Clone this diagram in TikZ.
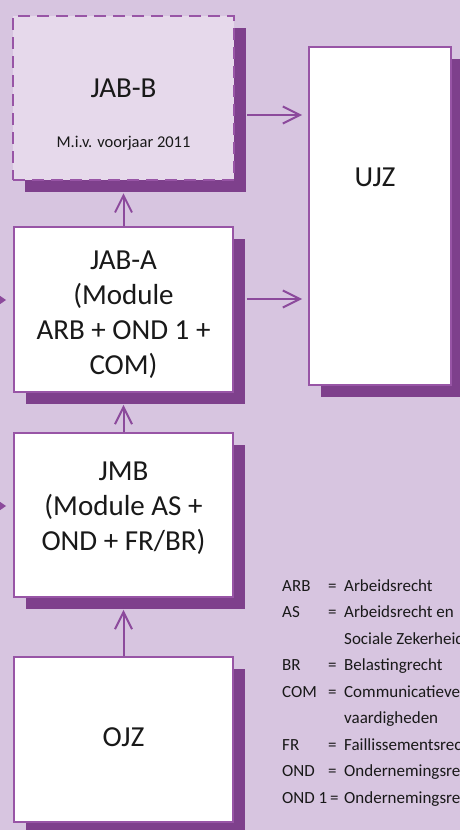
\documentclass[tikz,border=0pt]{standalone}
\usepackage{fontspec}
\setmainfont{Carlito}
\usetikzlibrary{arrows.meta,shadows,positioning}

\definecolor{bgpurple}{HTML}{D7C5E0}
\definecolor{notefill}{HTML}{E6D9EB}
\definecolor{shadowpurple}{HTML}{7E408C}
\definecolor{linepurple}{HTML}{9855A6}
\definecolor{arrowpurple}{HTML}{8C4A9C}

\newcommand{\abbr}[2]{\makebox[46pt][l]{#1}\makebox[16pt][l]{=}#2}
\newcommand{\abbrmore}[1]{\hspace*{62pt}#1}

\tikzset{
 course/.style={draw=linepurple,line width=1.8pt,fill=white,inner sep=0pt,
   drop shadow={shadow xshift=12pt,shadow yshift=-12pt,fill=shadowpurple,opacity=1}},
 coursename/.style={align=center,text=black!90,font=\fontsize{29}{35}\selectfont},
 flow/.style={draw=arrowpurple,line width=2pt,-{Straight Barb[length=17pt,width=17pt]}},
 feed/.style={draw=arrowpurple,line width=2pt,-{Triangle[length=7pt,width=9pt]}}
}

\begin{document}
\begin{tikzpicture}[x=1pt,y=-1pt]
\useasboundingbox (0,0) rectangle (460,830);
\fill[bgpurple] (0,0) rectangle (460,830);

% opleidingen
\node [course,minimum width=221pt,minimum height=164pt,fill=notefill,
  dash pattern=on 12pt off 7pt,line width=2.5pt] (jabb) at (123.5,98) {};
\node [coursename] (jabbname) at ([yshift=10pt]jabb.center) {JAB-B};
\node [text=black!90,font=\fontsize{16.5}{20}\selectfont] (jabbnote) at ([yshift=-45pt]jabb.center) {M.i.v. voorjaar 2011};
\node [course,minimum width=219pt,minimum height=165pt] (jaba) at (123.5,309.5) {};
\node [coursename] (jabaname) at ([yshift=-5pt]jaba.center) {JAB-A\\(Module\\ARB + OND 1 +\\COM)};
\node [course,minimum width=219pt,minimum height=164pt] (jmb) at (123.5,515) {};
\node [coursename] (jmbname) at ([yshift=7pt]jmb.center) {JMB\\(Module AS +\\OND + FR/BR)};
\node [course,minimum width=219pt,minimum height=165pt] (ojz) at (123.5,739.5) {};
\node [coursename] (ojzname) at ([yshift=2pt]ojz.center) {OJZ};
\node [course,minimum width=142pt,minimum height=338pt] (ujz) at (380,216) {};
\node [coursename] (ujzname) at ([xshift=-5pt,yshift=39pt]ujz.center) {UJZ};

% pijlen
\draw [flow] (jaba.north) -- ([yshift=-12pt]jabb.south);
\draw [flow] (jmb.north) -- ([yshift=-12pt]jaba.south);
\draw [flow] (ojz.north) -- ([yshift=-12pt]jmb.south);
\coordinate (bout) at ([xshift=12pt,yshift=-17pt]jabb.east);
\coordinate (aout) at ([xshift=13pt,yshift=10.5pt]jaba.east);
\draw [flow,shorten >=6pt] (bout) -- (bout -| ujz.west);
\draw [flow,shorten >=6pt] (aout) -- (aout -| ujz.west);
\coordinate (feeda) at (-4,300);
\coordinate (feedm) at (-4,506);
\draw [feed,shorten >=7pt] (feeda) -- (feeda -| jaba.west);
\draw [feed,shorten >=7pt] (feedm) -- (feedm -| jmb.west);

% afkortingen
\node [anchor=base west,inner sep=0pt,text=black!90,font=\fontsize{17}{26.5}\selectfont] (abbrevs) at (282,591) {%
\begin{tabular}[t]{@{}l@{}}
\abbr{ARB}{Arbeidsrecht}\\
\abbr{AS}{Arbeidsrecht en}\\
\abbrmore{Sociale Zekerheid}\\
\abbr{BR}{Belastingrecht}\\
\abbr{COM}{Communicatieve}\\
\abbrmore{vaardigheden}\\
\abbr{FR}{Faillissementsrecht}\\
\abbr{OND}{Ondernemingsrecht}\\
\makebox[48pt][l]{OND 1}\makebox[14pt][l]{=}Ondernemingsrecht
\end{tabular}};
\end{tikzpicture}
\end{document}
